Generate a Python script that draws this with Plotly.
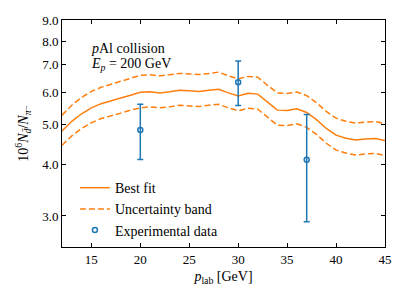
import plotly.graph_objects as go

p_lab = [12, 13, 14, 15, 16, 17, 18, 19, 20, 21, 22, 23, 24, 25, 26, 27, 28, 29, 30,
         31, 32, 33, 34, 35, 36, 37, 38, 39, 40, 41, 42, 43, 44, 45]
best_fit = [4.83, 5.10, 5.32, 5.50, 5.63, 5.73, 5.81, 5.90, 6.00, 6.02, 5.98, 6.02, 6.07,
            6.05, 6.03, 6.07, 6.10, 5.98, 5.88, 5.97, 5.94, 5.68, 5.43, 5.42, 5.47, 5.36,
            5.15, 4.90, 4.72, 4.64, 4.59, 4.62, 4.63, 4.58]
upper_band = [5.28, 5.58, 5.83, 6.03, 6.17, 6.28, 6.38, 6.48, 6.60, 6.62, 6.58, 6.62, 6.67,
              6.65, 6.63, 6.67, 6.72, 6.58, 6.47, 6.56, 6.53, 6.24, 5.98, 5.96, 6.01, 5.89,
              5.66, 5.39, 5.19, 5.10, 5.05, 5.08, 5.09, 5.04]
lower_band = [4.46, 4.70, 4.90, 5.06, 5.18, 5.27, 5.34, 5.43, 5.50, 5.53, 5.50, 5.53, 5.58,
              5.56, 5.54, 5.58, 5.61, 5.50, 5.41, 5.49, 5.46, 5.22, 4.99, 4.98, 5.03, 4.93,
              4.74, 4.51, 4.34, 4.27, 4.22, 4.25, 4.26, 4.21]

exp_x = [20, 30, 37]
exp_y = [4.86, 6.35, 4.11]
exp_hi = [5.61, 7.15, 5.30]
exp_lo = [4.12, 5.57, 2.905]

y_ticks = [3, 4, 5, 6, 7, 8, 9]
y_tick_text = ["3.0", "4.0", "5.0", "6.0", "7.0", "8.0", "9.0"]
x_ticks = [15, 20, 25, 30, 35, 40, 45]

orange = "#ff7f0e"
blue = "#1f77b4"
font = "Liberation Serif, Times New Roman, DejaVu Serif, serif"
dash_style = "6px,3px"

fig = go.Figure()
fig.add_trace(go.Scatter(x=p_lab, y=best_fit, mode="lines", name="Best fit",
                         line=dict(color=orange, width=1.5)))
fig.add_trace(go.Scatter(x=p_lab, y=upper_band, mode="lines", name="Uncertainty band",
                         line=dict(color=orange, width=1.5, dash=dash_style)))
fig.add_trace(go.Scatter(x=p_lab, y=lower_band, mode="lines", showlegend=False,
                         line=dict(color=orange, width=1.5, dash=dash_style)))
fig.add_trace(go.Scatter(
    x=exp_x, y=exp_y, mode="markers", name="Experimental data",
    marker=dict(symbol="circle-open", size=5, color=blue, line=dict(width=1.5, color=blue)),
    error_y=dict(type="data", symmetric=False,
                 array=[h - v for h, v in zip(exp_hi, exp_y)],
                 arrayminus=[v - l for v, l in zip(exp_y, exp_lo)],
                 color=blue, thickness=1.5, width=3)))

fig.add_annotation(x=0.085, y=0.873, xref="paper", yref="paper", xanchor="left", yanchor="middle",
                   text="<i>p</i>Al collision", showarrow=False,
                   font=dict(family=font, size=14, color="black"))
fig.add_annotation(x=0.085, y=0.803, xref="paper", yref="paper", xanchor="left", yanchor="middle",
                   text="<i>E<sub>p</sub></i> = 200 GeV", showarrow=False,
                   font=dict(family=font, size=14, color="black"))

axis_common = dict(showline=True, linecolor="black", linewidth=1, mirror="ticks",
                   ticks="inside", ticklen=4, tickwidth=1, tickcolor="black",
                   showgrid=False, zeroline=False,
                   tickfont=dict(family=font, size=13, color="black"))

fig.update_xaxes(range=[12, 45], tickvals=x_ticks,
                 title=dict(text="<i>p</i><sub>lab</sub> [GeV]", font=dict(family=font, size=14, color="black"), standoff=5),
                 **axis_common)
fig.update_yaxes(type="log", range=[0.4016, 0.9542], tickvals=y_ticks, ticktext=y_tick_text,
                 title=dict(text="10<sup>6</sup><i>N</i><sub><i>d̄</i></sub>/<i>N</i><sub><i>π</i>⁻</sub>",
                            font=dict(family=font, size=14, color="black"), standoff=10),
                 **axis_common)

fig.update_layout(
    width=407, height=305,
    margin=dict(l=62, r=22, t=20, b=58),
    plot_bgcolor="white", paper_bgcolor="white",
    font=dict(family=font, size=13, color="black"),
    legend=dict(x=0.04, y=0.33, xanchor="left", yanchor="top", bgcolor="rgba(0,0,0,0)",
                font=dict(family=font, size=14, color="black"), tracegroupgap=0),
)

fig.write_html("out.html", config={"displayModeBar": False},
               post_script="document.body.style.margin='0';")
